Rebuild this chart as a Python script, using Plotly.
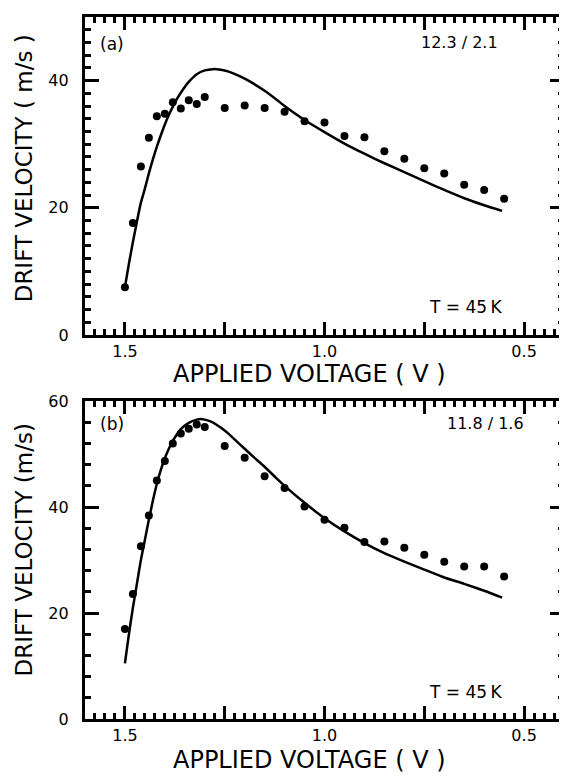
import plotly.graph_objects as go

# ---- data ----
volts_pts = [1.50, 1.48, 1.46, 1.44, 1.42, 1.40, 1.38, 1.36, 1.34, 1.32, 1.30,
             1.25, 1.20, 1.15, 1.10, 1.05, 1.00, 0.95, 0.90, 0.85, 0.80, 0.75,
             0.70, 0.65, 0.60, 0.55]
vel_a_pts = [7.5, 17.6, 26.5, 31.0, 34.4, 34.8, 36.6, 35.6, 36.9, 36.3, 37.4,
             35.7, 36.1, 35.7, 35.1, 33.6, 33.4, 31.3, 31.1, 28.9, 27.7, 26.2,
             25.4, 23.6, 22.8, 21.4]
vel_b_pts = [17.0, 23.6, 32.6, 38.4, 45.0, 48.7, 52.0, 53.9, 54.8, 55.6, 55.1,
             51.5, 49.3, 45.8, 43.6, 40.1, 37.6, 36.1, 33.4, 33.5, 32.3, 31.0,
             29.7, 28.8, 28.8, 26.9]

volts_curve_a = [1.50, 1.49, 1.48, 1.47, 1.46, 1.45, 1.44, 1.43, 1.42, 1.41, 1.40,
                 1.39, 1.38, 1.37, 1.36, 1.34, 1.32, 1.30, 1.28, 1.26, 1.24, 1.22,
                 1.20, 1.18, 1.15, 1.12, 1.10, 1.05, 1.00, 0.95, 0.90, 0.85, 0.80,
                 0.75, 0.70, 0.65, 0.60, 0.555]
vel_curve_a = [7.5, 11.2, 14.6, 17.8, 20.8, 23.0, 25.4, 27.6, 29.6, 31.4, 33.1,
               34.6, 35.9, 37.1, 38.1, 39.8, 41.0, 41.6, 41.8, 41.7, 41.4, 40.9,
               40.3, 39.6, 38.4, 37.0, 36.0, 33.8, 31.9, 30.1, 28.5, 27.0, 25.6,
               24.2, 22.8, 21.5, 20.4, 19.5]

volts_curve_b = [1.50, 1.49, 1.48, 1.47, 1.46, 1.45, 1.44, 1.43, 1.42, 1.41, 1.40,
                 1.39, 1.38, 1.37, 1.36, 1.34, 1.32, 1.31, 1.30, 1.28, 1.26, 1.24,
                 1.22, 1.20, 1.18, 1.15, 1.12, 1.10, 1.05, 1.00, 0.95, 0.90, 0.85,
                 0.80, 0.75, 0.70, 0.65, 0.60, 0.555]
vel_curve_b = [10.5, 16.0, 21.0, 25.5, 30.0, 33.8, 37.6, 41.2, 44.4, 47.0, 49.2,
               51.0, 52.5, 53.7, 54.7, 55.9, 56.5, 56.6, 56.5, 56.0, 55.0, 53.8,
               52.4, 51.0, 49.6, 47.6, 45.4, 44.0, 40.8, 37.9, 35.4, 33.2, 31.3,
               29.7, 28.2, 26.7, 25.5, 24.2, 22.9]

x_label_alias = {"1.25": " ", "0.75": " ", "1": "1.0"}

FONT = "DejaVu Sans"

fig = go.Figure()
fig.add_trace(go.Scatter(x=volts_curve_a, y=vel_curve_a, mode="lines",
                         line=dict(color="black", width=2.5, shape="spline", smoothing=0.5),
                         xaxis="x", yaxis="y", showlegend=False, hoverinfo="skip"))
fig.add_trace(go.Scatter(x=volts_pts, y=vel_a_pts, mode="markers",
                         marker=dict(color="black", size=8),
                         xaxis="x", yaxis="y", showlegend=False))
fig.add_trace(go.Scatter(x=volts_curve_b, y=vel_curve_b, mode="lines",
                         line=dict(color="black", width=2.5, shape="spline", smoothing=0.5),
                         xaxis="x2", yaxis="y2", showlegend=False, hoverinfo="skip"))
fig.add_trace(go.Scatter(x=volts_pts, y=vel_b_pts, mode="markers",
                         marker=dict(color="black", size=8),
                         xaxis="x2", yaxis="y2", showlegend=False))

X_RANGE = [1.6, 0.4]
tf = dict(family=FONT, size=16, color="black")


def xax(anchor):
    return dict(anchor=anchor, domain=[0, 1], range=X_RANGE, showline=True,
                linecolor="black", linewidth=3, mirror="ticks", ticks="inside",
                ticklen=13, tickwidth=3, tickcolor="black",
                showgrid=False, zeroline=False, tickfont=tf,
                tickmode="linear", tick0=0.5, dtick=0.25, labelalias=x_label_alias,
                minor=dict(dtick=0.025, ticklen=6, tickwidth=3, tickcolor="black",
                           ticks="inside"))


def yax(anchor, dom, rng, minor_dt):
    return dict(anchor=anchor, domain=dom, range=rng, showline=True,
                linecolor="black", linewidth=3, mirror="ticks", ticks="inside",
                ticklen=14, tickwidth=3, tickcolor="black",
                showgrid=False, zeroline=False, tickfont=tf, dtick=20,
                ticksuffix="  ",
                minor=dict(dtick=minor_dt, ticklen=6, tickwidth=3, tickcolor="black",
                           ticks="inside"))


# page body has an 8 px margin: build the figure 8 px smaller
OFF = 8
W, H = 567 - OFF, 776 - OFF
L, R, T, B = 85 - OFF, 1, 0, 57
plot_bottom = OFF + H - B
pw = W - L - R
ph = H - T - B


def px(xp):
    return (xp - OFF - L) / pw


def py(yp):
    return (plot_bottom - yp) / ph


annotations = []


def ann(text, x, y, size, xanchor="center", angle=0):
    annotations.append(dict(text=text, x=x, y=y, xref="paper", yref="paper",
                            xanchor=xanchor, yanchor="middle", showarrow=False,
                            textangle=angle,
                            font=dict(family=FONT, size=size, color="black")))


ann("DRIFT VELOCITY ( m/s )", px(24), py(161), 23, angle=-90)
ann("DRIFT VELOCITY (m/s)", px(24), py(548), 23, angle=-90)
ann("APPLIED VOLTAGE ( V )", px(310), py(370), 24)
ann("APPLIED VOLTAGE ( V )", px(310), py(761), 24)
ann("(a)", px(98), py(35), 17, xanchor="left")
ann("12.3 / 2.1", px(502), py(34), 16, xanchor="right")
ann("T = 45\u2009K", px(506), py(302), 17, xanchor="right")
ann("(b)", px(98), py(420), 17, xanchor="left")
ann("11.8 / 1.6", px(528), py(420), 16, xanchor="right")
ann("T = 45\u2009K", px(506), py(692), 17, xanchor="right")

ya_dom = [py(330), 1.0]
yb_dom = [0.0, py(397)]

fig.update_layout(
    width=W, height=H,
    margin=dict(l=L, r=R, t=T, b=B, pad=0),
    paper_bgcolor="white", plot_bgcolor="white",
    xaxis=xax("y"),
    yaxis=yax("x", ya_dom, [0, 50], 2),
    xaxis2=xax("y2"),
    yaxis2=yax("x2", yb_dom, [0, 60], 4),
    annotations=annotations,
    showlegend=False,
)

fig.write_html("out.html", config={"staticPlot": True})
